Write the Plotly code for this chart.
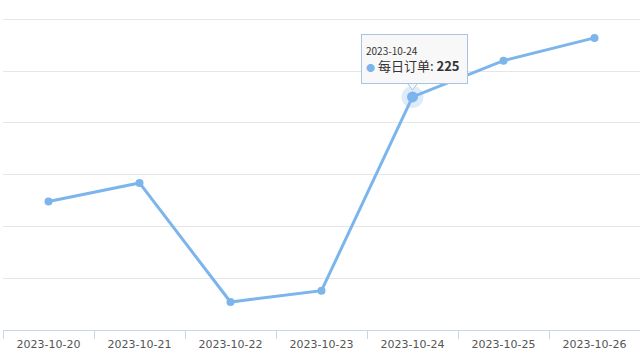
import plotly.graph_objects as go

dates = ["2023-10-20", "2023-10-21", "2023-10-22", "2023-10-23", "2023-10-24", "2023-10-25", "2023-10-26"]
orders = [124, 142, 27, 38, 225, 260, 282]
series_name = "每日订单"
hl_index = 4

color = "#7cb5ec"
border = "#a9c4e2"
bg = "rgb(248,248,248)"

y_range = [0, 301.2]
plot_h = 360 - 18 - 30
px_per_unit = plot_h / (y_range[1] - y_range[0])

fig = go.Figure()
fig.add_trace(go.Scatter(
    x=dates, y=orders, mode="lines+markers", name=series_name,
    line=dict(color=color, width=3),
    marker=dict(color=color, size=8),
    hoverinfo="skip",
))
# highlighted point halo
fig.add_trace(go.Scatter(
    x=[dates[hl_index]], y=[orders[hl_index]], mode="markers",
    marker=dict(color=color, size=22, opacity=0.25, line=dict(width=0)),
    hoverinfo="skip",
))
fig.add_trace(go.Scatter(
    x=[dates[hl_index]], y=[orders[hl_index]], mode="markers",
    marker=dict(color=color, size=11, line=dict(width=0)),
    hoverinfo="skip",
))
# tooltip caret
fig.add_trace(go.Scatter(
    x=[dates[hl_index]], y=[orders[hl_index] + 13 / px_per_unit], mode="markers",
    marker=dict(symbol="triangle-down", color=bg, size=12, line=dict(color=border, width=1)),
    hoverinfo="skip",
))

tip_text = (f"<span style='font-size:10px'>{dates[hl_index]}</span><br>"
            f"<span style='color:{color};font-size:9px'>●</span> {series_name}: <b>{orders[hl_index]}</b>")
fig.add_annotation(
    x=dates[hl_index], y=orders[hl_index], xref="x", yref="y",
    text=tip_text, showarrow=False, align="left",
    xshift=2, yshift=38, xanchor="center", yanchor="middle",
    width=97, height=40, borderpad=4, borderwidth=1,
    bordercolor=border, bgcolor=bg,
    font=dict(family="Noto Sans CJK SC, DejaVu Sans", size=13, color="#333333"),
)

fig.update_layout(
    width=640, height=360,
    margin=dict(l=3, r=0, t=18, b=30),
    paper_bgcolor="white", plot_bgcolor="white",
    showlegend=False,
    font=dict(family="DejaVu Sans", size=11, color="#555555"),
    xaxis=dict(
        type="category", tickson="boundaries", ticks="outside", ticklen=8,
        tickcolor="#ccd6eb", showline=True, linecolor="#ccd6eb", linewidth=1,
        showgrid=False, range=[-0.5, 6.5], tickfont=dict(size=11, color="#555555"),
        ticklabelstandoff=4, fixedrange=True,
    ),
    yaxis=dict(
        range=y_range, tickvals=[0, 50, 100, 150, 200, 250, 300], showgrid=True,
        gridcolor="#e6e6e6", showticklabels=False, zeroline=False, fixedrange=True,
    ),
)
fig.write_html("out.html")
